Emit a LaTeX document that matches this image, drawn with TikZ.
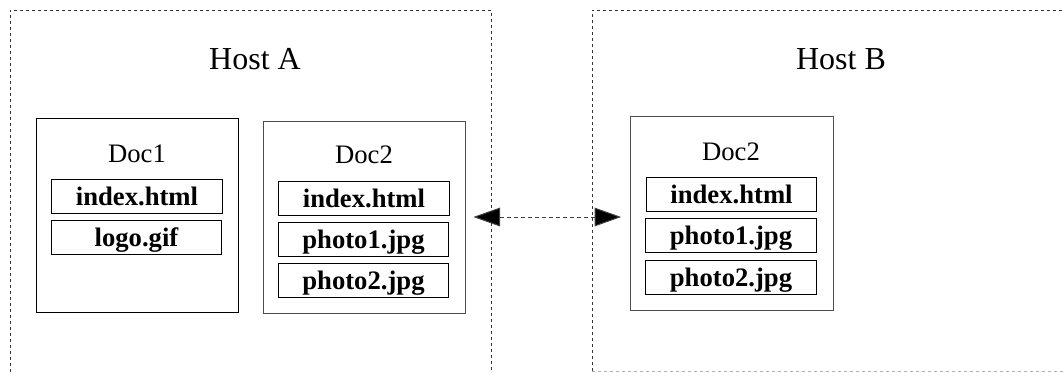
\documentclass[tikz,border=0pt]{standalone}
\usepackage{fontspec}
\setmainfont{Liberation Serif}
\usetikzlibrary{arrows.meta}
\begin{document}
\begin{tikzpicture}[x=0.75pt,y=-0.75pt,
  hostline/.style={draw=black!80,line width=0.75pt,dash pattern=on 2.25pt off 2.25pt},
  hosttitle/.style={anchor=base,inner sep=0pt,font=\fontsize{24}{28}\selectfont},
  docbox/.style={draw,line width=0.75pt,inner sep=0pt,minimum width=152pt,minimum height=145pt},
  doctitle/.style={anchor=base,inner sep=0pt,font=\fontsize{20}{24}\selectfont},
  filebox/.style={draw,line width=0.75pt,inner sep=0pt,minimum width=128pt,minimum height=25.5pt,
    text height=13.5pt,text depth=0pt,font=\bfseries\fontsize{20}{24}\selectfont},
  link/.style={draw=black!75,line width=0.75pt,dash pattern=on 3pt off 2.25pt,
    {Triangle[length=20pt,width=14pt,fill=black]}-{Triangle[length=20pt,width=14pt,fill=black]}}]
\useasboundingbox (0,0) rectangle (1063,372);

% host frames
\draw[hostline] (10,372) -- (10,10) -- (491,10) -- (491,372);
\draw[hostline] (592,371) -- (592,10) -- (1063,10);
\draw[draw=black!30,line width=0.75pt,dash pattern=on 2.25pt off 2.25pt] (592,371) -- (1063,371);
\node[hosttitle] (hostA) at (255,69) {Host A};
\node[hosttitle] (hostB) at (841,69) {Host B};

% Host A, Doc1
\node[docbox,draw=black] (docA1) at (137.5,215.5) {};
\node[doctitle] (docA1t) at (137,162) {Doc1};
\node[filebox] (a1index) at (137,196) {index.html};
\node[filebox] (a1logo) at (136.5,237) {logo.gif};

% Host A, Doc2
\node[docbox,draw=black!70,minimum height=144pt] (docA2) at (364.5,217) {};
\node[doctitle] (docA2t) at (364,163) {Doc2};
\node[filebox] (a2index) at (364,198) {index.html};
\node[filebox] (a2p1) at (363.5,239) {photo1.jpg};
\node[filebox] (a2p2) at (363.5,280.5) {photo2.jpg};

% Host B, Doc2
\node[docbox,draw=black!70] (docB2) at (732,213.5) {};
\node[doctitle] (docB2t) at (731,160) {Doc2};
\node[filebox] (b2index) at (731.5,194.5) {index.html};
\node[filebox] (b2p1) at (731,235.5) {photo1.jpg};
\node[filebox] (b2p2) at (731,277.5) {photo2.jpg};

% replication link
\draw[link,shorten <=5.25pt,shorten >=6.75pt] (docA2.east |- 0,217) -- (docB2.west |- 0,217);
\end{tikzpicture}
\end{document}
